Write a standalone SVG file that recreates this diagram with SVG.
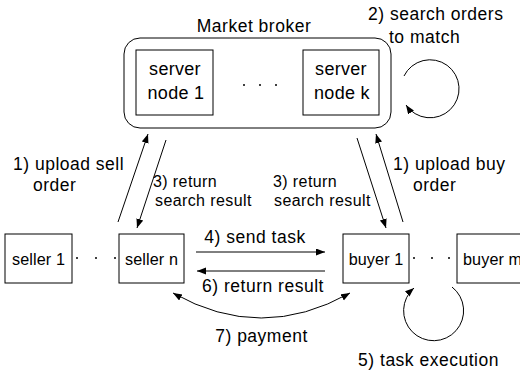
<svg xmlns="http://www.w3.org/2000/svg" width="520" height="371" viewBox="0 0 520 371">
<style>
text{font-family:"Liberation Sans",Arial,sans-serif;fill:#000}
.lbl{font-size:17.5px;letter-spacing:0.5px}
.sm{font-size:16px;letter-spacing:0.4px}
.node{font-size:18px;letter-spacing:0.3px;text-anchor:middle}
.ent{font-size:16.2px;letter-spacing:0.1px;text-anchor:middle}
.box{fill:#fff;stroke:#000;stroke-width:1}
.ln{fill:none;stroke:#000;stroke-width:1}
.mid{text-anchor:middle}
</style>
<defs>
<marker id="ah" markerUnits="userSpaceOnUse" markerWidth="10" markerHeight="8" refX="9" refY="3.5" orient="auto-start-reverse">
<path d="M0,0 L9,3.5 L0,7 z" fill="#000"/>
</marker>
</defs>
<rect width="520" height="371" fill="#fff"/>
<g id="broker">
<rect x="124" y="38" width="267" height="90" rx="16" class="box" stroke-width="1.2"/>
<text x="254" y="32" class="lbl mid">Market broker</text>
<circle cx="244" cy="85" r="1" fill="#000"/>
<circle cx="260" cy="85" r="1" fill="#000"/>
<circle cx="276" cy="85" r="1" fill="#000"/>
</g>
<g id="server1">
<rect x="136" y="50" width="77" height="65" class="box"/>
<text x="175" y="75" class="node">server</text>
<text x="176" y="99" class="node">node 1</text>
</g>
<g id="serverk">
<rect x="303" y="50" width="76" height="65" class="box"/>
<text x="341" y="75" class="node">server</text>
<text x="342" y="99" class="node">node k</text>
</g>
<g id="seller1">
<rect x="5" y="234" width="67" height="49" class="box"/>
<text x="38.5" y="265" class="ent">seller 1</text>
</g>
<g id="sellern">
<rect x="119" y="234" width="65" height="49" class="box"/>
<text x="151.5" y="265" class="ent">seller n</text>
</g>
<g id="buyer1">
<rect x="343" y="234" width="66" height="49" class="box"/>
<text x="376" y="265" class="ent">buyer 1</text>
</g>
<g id="buyerm">
<rect x="457" y="234" width="70" height="49" class="box"/>
<text x="463" y="265" class="ent" style="text-anchor:start">buyer m</text>
</g>
<g id="dots">
<circle cx="77" cy="258" r="1" fill="#000"/>
<circle cx="96" cy="258" r="1" fill="#000"/>
<circle cx="115" cy="258" r="1" fill="#000"/>
<circle cx="414" cy="258" r="1" fill="#000"/>
<circle cx="432" cy="258" r="1" fill="#000"/>
<circle cx="449" cy="258" r="1" fill="#000"/>
</g>
<g id="connectors">
<line x1="118" y1="222" x2="148" y2="134" class="ln" marker-end="url(#ah)"/>
<line x1="166" y1="140" x2="137" y2="228" class="ln" marker-end="url(#ah)"/>
<line x1="357" y1="138" x2="386" y2="228" class="ln" marker-end="url(#ah)"/>
<line x1="403" y1="222" x2="376" y2="134" class="ln" marker-end="url(#ah)"/>
<line x1="196" y1="252" x2="325" y2="252" class="ln" marker-end="url(#ah)"/>
<line x1="325" y1="271" x2="197" y2="271" class="ln" marker-end="url(#ah)"/>
<path d="M173,293 Q261,343 350,293" class="ln" marker-start="url(#ah)" marker-end="url(#ah)"/>
<path d="M404,76 A29,29 0 1 1 406,105" class="ln" marker-end="url(#ah)"/>
<path d="M452,287 A30,30 0 1 1 414,288" class="ln" marker-end="url(#ah)"/>
</g>
<g id="labels">
<text x="368" y="20" class="lbl">2) search orders</text>
<text x="389" y="43" class="lbl">to match</text>
<text x="13" y="170" class="lbl">1) upload sell</text>
<text x="33" y="191" class="lbl">order</text>
<text x="153" y="187" class="sm">3) return</text>
<text x="155" y="206" class="sm">search result</text>
<text x="273" y="187" class="sm">3) return</text>
<text x="274" y="206" class="sm">search result</text>
<text x="393" y="170" class="lbl">1) upload buy</text>
<text x="413" y="191" class="lbl">order</text>
<text x="255" y="243" class="lbl mid">4) send task</text>
<text x="263" y="292" class="lbl mid">6) return result</text>
<text x="261.5" y="342" class="lbl mid">7) payment</text>
<text x="428.5" y="366" class="lbl mid">5) task execution</text>
</g>
</svg>
